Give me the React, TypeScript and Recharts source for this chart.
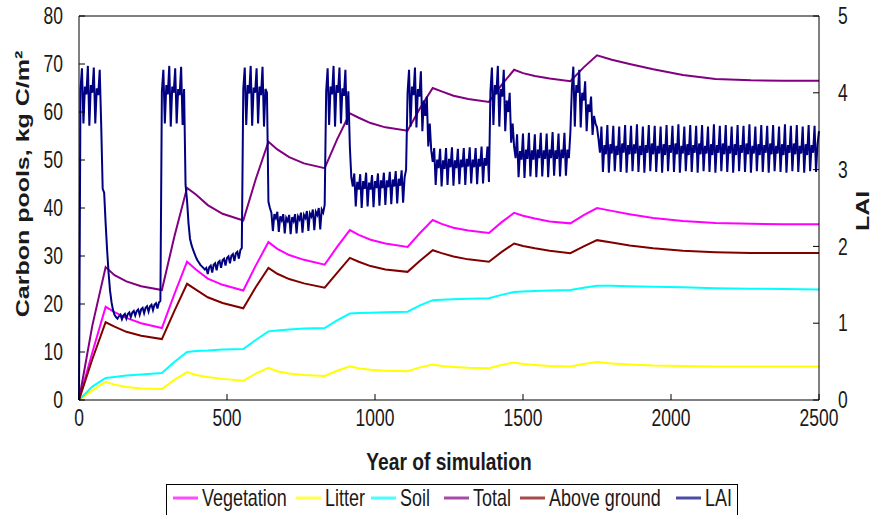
import React from 'react';
import { LineChart, Line, XAxis, YAxis, ReferenceLine, Legend, Label } from 'recharts';

// Carbon pools (kg C/m²) at the sampled simulation years:
// each cycle = disturbance, regrowth peak, then decay until the next disturbance
const poolYears = [
  0, 45, 90, 120, 160, 210, 280, 322, 365, 395, 435, 485, 555, 597, 640, 670, 710, 760,
  830, 872, 915, 945, 985, 1035, 1110, 1152, 1195, 1225, 1265, 1315, 1385, 1427, 1470,
  1500, 1540, 1590, 1660, 1705, 1750, 1800, 1860, 1940, 2040, 2150, 2270, 2380, 2500,
];
const vegetation = [
  0, 9.9, 19.4, 18.3, 17.1, 16.0, 15.0, 22.0, 28.8, 27.2, 25.3, 24.0, 22.8, 28.0, 32.9, 31.5, 30.2, 29.2,
  28.2, 31.9, 35.4, 34.4, 33.4, 32.6, 31.9, 34.8, 37.5, 36.7, 35.9, 35.3, 34.8, 37.0, 39.0,
  38.4, 37.8, 37.2, 36.8, 38.5, 40.0, 39.4, 38.7, 37.9, 37.3, 36.9, 36.7, 36.6, 36.6,
];
const litter = [
  0, 2.0, 3.8, 3.2, 2.7, 2.4, 2.3, 4.2, 5.8, 5.2, 4.8, 4.4, 4.0, 5.5, 6.7, 6.0, 5.5, 5.2,
  5.0, 6.1, 7.0, 6.6, 6.3, 6.1, 6.0, 6.8, 7.4, 7.1, 6.9, 6.7, 6.6, 7.3, 7.8,
  7.5, 7.3, 7.1, 7.0, 7.5, 7.9, 7.6, 7.4, 7.2, 7.1, 7.0, 7.0, 7.0, 7.0,
];
const soil = [
  0, 2.8, 4.6, 4.8, 5.1, 5.3, 5.6, 7.9, 10.0, 10.2, 10.3, 10.5, 10.6, 12.5, 14.3, 14.5, 14.7, 14.9,
  15.0, 16.6, 18.0, 18.1, 18.2, 18.3, 18.4, 19.7, 20.8, 20.9, 21.0, 21.1, 21.2, 21.9, 22.5,
  22.6, 22.7, 22.8, 22.9, 23.4, 23.8, 23.8, 23.7, 23.6, 23.5, 23.3, 23.2, 23.1, 23.0,
];
const total = [
  0, 15.5, 27.7, 26.0, 24.7, 23.7, 22.9, 34.0, 44.2, 42.8, 40.6, 38.8, 37.4, 46.0, 53.8, 52.2, 50.6, 49.3,
  48.3, 54.3, 59.7, 58.8, 57.7, 56.8, 56.1, 60.8, 65.0, 64.3, 63.4, 62.7, 62.1, 65.6, 68.8,
  68.1, 67.5, 67.0, 66.4, 69.3, 71.8, 70.9, 70.0, 68.9, 67.7, 66.9, 66.6, 66.5, 66.5,
];
const aboveGround = [
  0, 8.5, 16.2, 15.3, 14.2, 13.4, 12.7, 18.5, 24.2, 23.0, 21.4, 20.2, 19.1, 23.5, 27.5, 26.3, 25.2, 24.3,
  23.4, 26.5, 29.6, 28.8, 27.9, 27.2, 26.7, 29.0, 31.2, 30.6, 29.9, 29.3, 28.8, 30.8, 32.6,
  32.1, 31.6, 31.1, 30.6, 32.0, 33.3, 32.8, 32.2, 31.6, 31.1, 30.8, 30.6, 30.6, 30.6,
];

// LAI, one value every 5 simulated years; closed stands alternate with gap phases
const laiStep = 5;
const laiStand1 = [0, 4.05, 4.32, 3.6, 4.08, 3.98, 4.35, 3.57, 4.1, 4.0, 4.33, 3.6, 4.06, 3.97, 4.3, 3.58];
const laiGap1 = [
  2.75, 2.7, 2.3, 1.95, 1.65, 1.42, 1.27, 1.17, 1.11, 1.08, 1.06,
  1.09, 1.11, 1.05, 1.1, 1.12, 1.06, 1.12, 1.14, 1.08, 1.14, 1.16, 1.1, 1.16, 1.18, 1.11,
  1.18, 1.2, 1.13, 1.2, 1.22, 1.15, 1.22, 1.24, 1.17, 1.24, 1.26, 1.19, 1.27, 1.29,
];
const laiStand2 = [4.02, 4.3, 3.6, 4.1, 3.98, 4.35, 3.56, 4.08, 4.0, 4.32, 3.6, 4.05, 3.97, 4.34, 3.58, 4.05];
const laiGap2 = [
  2.8, 2.6, 2.3, 2.1, 2.02, 1.96, 1.91, 1.86, 1.82, 1.79, 1.76, 1.74, 1.72, 1.7,
  1.72, 1.64, 1.73, 1.75, 1.66, 1.76, 1.78, 1.69, 1.79, 1.81, 1.72, 1.82, 1.84,
  1.75, 1.85, 1.87, 1.78, 1.88, 1.9, 1.81, 1.91, 1.93, 1.84, 1.95, 1.98,
];
const laiStand3 = [4.05, 4.33, 3.58, 4.1, 3.99, 4.35, 3.57, 4.07, 4.0, 4.32, 3.6, 4.08, 3.97, 4.34, 3.56, 4.05, 4.0];
const laiGap3 = [
  2.58, 2.5, 2.44, 2.2, 2.42, 2.37, 2.45, 2.19, 2.39, 2.34, 2.42, 2.17, 2.37,
  2.33, 2.41, 2.16, 2.38, 2.33, 2.42, 2.17, 2.39, 2.35, 2.44, 2.18, 2.41, 2.37,
  2.46, 2.2, 2.43, 2.39, 2.48, 2.21, 2.45, 2.41, 2.5, 2.22, 2.48, 2.44, 2.54,
];
const laiStand4 = [4.02, 4.32, 3.58, 4.08, 3.98, 4.35, 3.56, 4.1, 4.0, 4.33, 3.6, 4.06, 3.96, 4.3, 3.58, 4.02, 3.3];
const laiGap4 = [
  2.9, 2.78, 2.95, 2.52, 2.84, 2.74, 2.94, 2.5, 2.85, 2.75, 2.96, 2.52, 2.83,
  2.74, 2.93, 2.51, 2.85, 2.76, 2.95, 2.53, 2.86, 2.76, 2.96, 2.54, 2.86,
  2.77, 2.97, 2.55, 2.87, 2.78, 2.98, 2.56, 2.88, 2.79, 2.99, 2.57, 2.9, 3.0,
];
const laiStand5 = [4.0, 4.3, 3.56, 4.08, 3.97, 4.33, 3.55, 4.05, 3.95, 4.28, 3.5, 3.9, 3.7, 3.95, 3.3, 3.6, 3.25];
const laiGap5 = [
  3.1, 3.28, 2.8, 3.13, 3.02, 3.27, 2.78, 3.12, 3.01, 3.28, 2.8, 3.14, 3.03,
  3.29, 2.79, 3.12, 3.02, 3.27, 2.81, 3.13, 3.03, 3.28, 2.8, 3.14, 3.04, 3.29,
  2.82, 3.13, 3.03, 3.28, 2.81, 3.14, 3.04, 3.3, 2.82, 3.15, 3.05, 3.3, 2.84,
];
const laiStand6 = [4.02, 4.33, 3.58, 4.1, 3.98, 4.35, 3.56, 4.05, 3.95, 4.3, 3.5, 3.9, 3.75, 4.0, 3.35, 3.6];
const laiGap6 = [
  3.3, 3.15, 3.46, 2.9, 3.24, 3.13, 3.47, 2.89, 3.26, 3.14, 3.48, 2.91, 3.25,
  3.13, 3.46, 2.9, 3.26, 3.15, 3.48, 2.91, 3.25, 3.14, 3.47, 2.9, 3.26, 3.15,
  3.49, 2.92, 3.25, 3.14, 3.47, 2.91, 3.26, 3.15, 3.48, 2.92, 3.26, 3.15, 3.48,
];
const laiStand7 = [4.05, 4.34, 3.56, 4.1, 4.0, 4.3, 3.55, 4.0, 3.9, 4.15, 3.5, 3.85, 3.75, 3.95, 3.45, 3.7, 3.6, 3.55];
const laiLate = [
  3.4, 3.22, 3.56, 2.97, 3.32, 3.2, 3.58, 2.96, 3.33, 3.21, 3.57, 2.98, 3.31, 3.19, 3.56, 2.97,
  3.34, 3.22, 3.58, 2.96, 3.32, 3.2, 3.57, 2.98, 3.33, 3.21, 3.59, 2.97, 3.31, 3.19, 3.56, 2.96,
  3.32, 3.22, 3.58, 2.98, 3.34, 3.2, 3.57, 2.97, 3.31, 3.21, 3.56, 2.96, 3.33, 3.19, 3.58, 2.98,
  3.32, 3.22, 3.57, 2.97, 3.34, 3.2, 3.59, 2.96, 3.31, 3.21, 3.56, 2.98, 3.33, 3.19, 3.58, 2.97,
  3.32, 3.22, 3.57, 2.96, 3.34, 3.2, 3.58, 2.98, 3.31, 3.21, 3.56, 2.97, 3.33, 3.19, 3.59, 2.96,
  3.32, 3.22, 3.57, 2.98, 3.34, 3.2, 3.58, 2.97, 3.31, 3.21, 3.56, 2.96, 3.33, 3.19, 3.58, 2.98,
  3.32, 3.22, 3.57, 2.97, 3.34, 3.2, 3.59, 2.96, 3.31, 3.21, 3.56, 2.98, 3.33, 3.19, 3.58, 2.97,
  3.32, 3.22, 3.57, 2.96, 3.34, 3.2, 3.58, 2.98, 3.31, 3.21, 3.56, 2.97, 3.33, 3.19, 3.59, 2.96,
  3.32, 3.22, 3.57, 2.98, 3.34, 3.2, 3.58, 2.97, 3.31, 3.21, 3.56, 2.96, 3.33, 3.19, 3.58, 2.98,
  3.32, 3.22, 3.57, 2.97, 3.33, 3.5,
];

const carbonTicks = [0, 10, 20, 30, 40, 50, 60, 70, 80];
const laiTicks = [0, 1, 2, 3, 4, 5];
const yearTicks = [0, 500, 1000, 1500, 2000, 2500];

const series = [
  { key: 'vegetation', name: 'Vegetation', color: '#ff00ff' },
  { key: 'litter', name: 'Litter', color: '#ffff00' },
  { key: 'soil', name: 'Soil', color: '#00ffff' },
  { key: 'total', name: 'Total', color: '#800080' },
  { key: 'aboveGround', name: 'Above ground', color: '#800000' },
  { key: 'lai', name: 'LAI', color: '#000080' },
];

const poolData = poolYears.map((year, i) => ({
  year,
  vegetation: vegetation[i],
  litter: litter[i],
  soil: soil[i],
  total: total[i],
  aboveGround: aboveGround[i],
}));

const laiValues = [
  ...laiStand1, ...laiGap1, ...laiStand2, ...laiGap2, ...laiStand3, ...laiGap3, ...laiStand4,
  ...laiGap4, ...laiStand5, ...laiGap5, ...laiStand6, ...laiGap6, ...laiStand7, ...laiLate,
];
const laiData = laiValues.map((lai, i) => ({ year: i * laiStep, lai }));

const FONT = '"Liberation Sans", Arial, Helvetica, sans-serif';
const INK = '#1a1a1a';
// the text in this figure is narrow and tall
const SQUEEZE = 0.76;

const makeTick = (anchor: 'start' | 'middle' | 'end', dy: string) => (props: any) => {
  const { x, y, payload } = props;
  return (
    <text
      transform={`translate(${x},${y}) scale(${SQUEEZE},1)`}
      textAnchor={anchor}
      dy={dy}
      fontSize={23}
      fontFamily={FONT}
      fill={INK}
    >
      {payload.value}
    </text>
  );
};
const LeftTick = makeTick('end', '0.36em');
const RightTick = makeTick('start', '0.36em');
const BottomTick = makeTick('middle', '0.71em');

const AxisTitle = ({ x, y, text, vertical }: { x: number; y: number; text: string; vertical?: boolean }) => (
  <text
    transform={`translate(${x},${y}) scale(${vertical ? 0.77 : 0.8},1)${vertical ? ' rotate(-90)' : ''}`}
    textAnchor="middle"
    dy={vertical ? '0.35em' : 0}
    fontSize={vertical ? 25 : 24}
    fontWeight="bold"
    fontFamily={FONT}
    fill={INK}
  >
    {text}
  </text>
);

// left edge of each legend sample line, inside the legend box
const legendSlots = [7, 130, 205, 278, 354, 510];

const ChartLegend = () => (
  <svg width={572} height={31} style={{ display: 'block' }}>
    <rect x={0.5} y={0.5} width={571} height={40} fill="#fff" stroke="#000" />
    {series.map((s, i) => (
      <g key={s.key}>
        <line
          x1={legendSlots[i]}
          x2={legendSlots[i] + 25}
          y1={14}
          y2={14}
          stroke={s.color}
          strokeOpacity={0.7}
          strokeWidth={3}
        />
        <text
          transform={`translate(${legendSlots[i] + 29},22) scale(0.78,1)`}
          fontSize={23}
          fontFamily={FONT}
          fill={INK}
        >
          {s.name}
        </text>
      </g>
    ))}
  </svg>
);

const poolSeries = series.filter((s) => s.key !== 'lai');
const laiSeries = series.find((s) => s.key === 'lai')!;

export default function App() {
  return (
    <div style={{ position: 'absolute', left: 0, top: 0, width: 874, height: 515, background: '#fff' }}>
      <LineChart width={874} height={515} margin={{ top: 16, right: 0, bottom: 35, left: 0 }}>
        <XAxis
          type="number"
          dataKey="year"
          domain={[0, 2500]}
          ticks={yearTicks}
          interval={0}
          height={80}
          stroke="#000"
          tickSize={-6}
          tickMargin={16}
          tick={BottomTick}
          allowDuplicatedCategory={false}
        >
          <Label content={() => <AxisTitle x={449} y={470} text="Year of simulation" />} />
        </XAxis>
        <YAxis
          yAxisId="left"
          domain={[0, 80]}
          ticks={carbonTicks}
          interval={0}
          width={79}
          stroke="#000"
          tickSize={-6}
          tickMargin={22}
          tick={LeftTick}
        >
          <Label content={() => <AxisTitle x={22} y={184} text="Carbon pools, kg C/m²" vertical />} />
        </YAxis>
        <YAxis
          yAxisId="right"
          orientation="right"
          domain={[0, 5]}
          ticks={laiTicks}
          interval={0}
          width={55}
          stroke="#000"
          tickSize={-6}
          tickMargin={25}
          tick={RightTick}
        >
          <Label content={() => <AxisTitle x={862} y={211} text="LAI" vertical />} />
        </YAxis>
        <ReferenceLine yAxisId="left" y={80} stroke="#000" />
        {poolSeries.map((s) => (
          <Line
            key={s.key}
            yAxisId="left"
            data={poolData}
            dataKey={s.key}
            name={s.name}
            type="linear"
            stroke={s.color}
            strokeWidth={2}
            dot={false}
            activeDot={false}
            isAnimationActive={false}
          />
        ))}
        <Line
          yAxisId="right"
          data={laiData}
          dataKey="lai"
          name={laiSeries.name}
          type="linear"
          stroke={laiSeries.color}
          strokeWidth={2}
          dot={false}
          activeDot={false}
          isAnimationActive={false}
        />
        <Legend
          layout="vertical"
          align="center"
          verticalAlign="middle"
          content={() => <ChartLegend />}
          wrapperStyle={{ position: 'absolute', left: 166, top: 484, width: 572, height: 31 }}
        />
      </LineChart>
    </div>
  );
}
